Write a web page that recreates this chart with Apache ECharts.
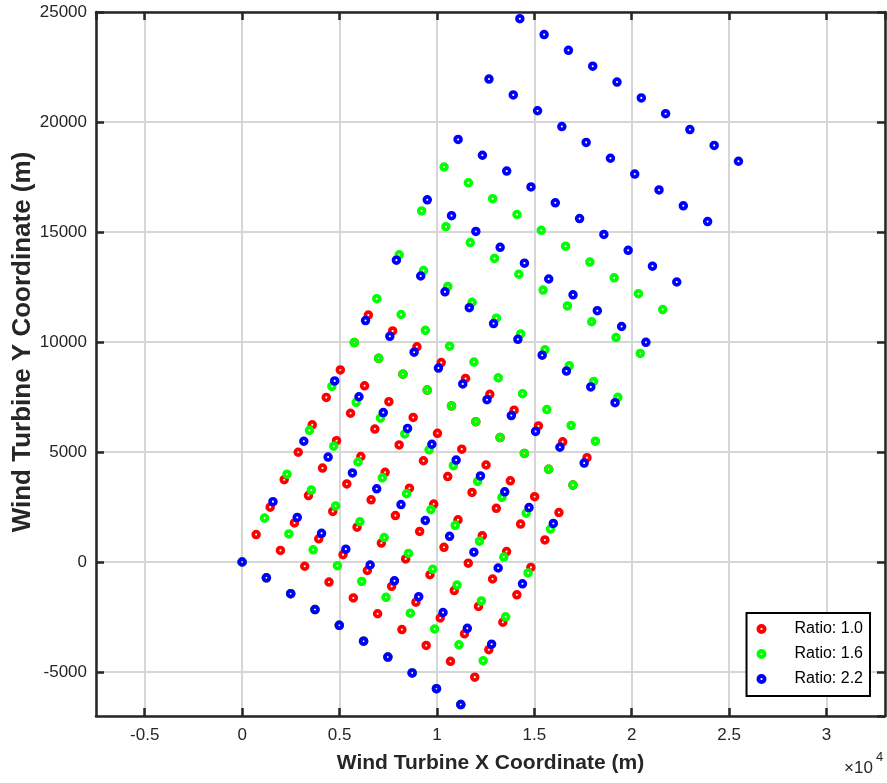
<!DOCTYPE html>
<html>
<head>
<meta charset="utf-8">
<script src="https://cdn.jsdelivr.net/npm/echarts@6/dist/echarts.min.js"></script>
<style>html,body{margin:0;padding:0;background:#fff}#c{width:887px;height:783px}</style>
</head>
<body>
<div id="c"></div>
<script>
// Series names
const seriesNames = ['Ratio: 1.0', 'Ratio: 1.6', 'Ratio: 2.2'];
const seriesColors = ['#ff0000', '#00ff00', '#0000ff'];

// Ratio 1.0 turbine coordinates (m), one row per line of turbines
const ratio10X = [
  [0,1247,2494,3741,4988,6235,7482,8729,9976,11223],
  [720,1967,3214,4461,5708,6955,8202,9449,10696,11943],
  [1440,2687,3934,5181,6428,7675,8922,10169,11416,12663],
  [2160,3407,4654,5901,7148,8395,9642,10889,12136,13383],
  [2880,4127,5374,6621,7868,9115,10362,11609,12856,14103],
  [3600,4847,6094,7341,8588,9835,11082,12329,13576,14823],
  [4320,5567,6814,8061,9308,10555,11802,13049,14296,15543],
  [5040,6287,7534,8781,10028,11275,12522,13769,15016,16263],
  [5760,7007,8254,9501,10748,11995,13242,14489,15736,16983],
  [6480,7727,8974,10221,11468,12715,13962,15209,16456,17703]
];
const ratio10Y = [
  [0,-720,-1440,-2160,-2880,-3600,-4320,-5040,-5760,-6480],
  [1247,527,-193,-913,-1633,-2353,-3073,-3793,-4513,-5233],
  [2494,1774,1054,334,-386,-1106,-1826,-2546,-3266,-3986],
  [3741,3021,2301,1581,861,141,-579,-1299,-2019,-2739],
  [4988,4268,3548,2828,2108,1388,668,-52,-772,-1492],
  [6235,5515,4795,4075,3355,2635,1915,1195,475,-245],
  [7482,6762,6042,5322,4602,3882,3162,2442,1722,1002],
  [8729,8009,7289,6569,5849,5129,4409,3689,2969,2249],
  [9976,9256,8536,7816,7096,6376,5656,4936,4216,3496],
  [11223,10503,9783,9063,8343,7623,6903,6183,5463,4743]
];

// Ratio 1.6 turbine coordinates (m)
const ratio16X = [
  [0,1247,2494,3741,4988,6235,7482,8729,9976,11223],
  [1152,2399,3646,4893,6140,7387,8634,9881,11128,12375],
  [2304,3551,4798,6045,7292,8539,9786,11033,12280,13527],
  [3456,4703,5950,7197,8444,9691,10938,12185,13432,14679],
  [4608,5855,7102,8349,9596,10843,12090,13337,14584,15831],
  [5760,7007,8254,9501,10748,11995,13242,14489,15736,16983],
  [6912,8159,9406,10653,11900,13147,14394,15641,16888,18135],
  [8064,9311,10558,11805,13052,14299,15546,16793,18040,19287],
  [9216,10463,11710,12957,14204,15451,16698,17945,19192,20439],
  [10368,11615,12862,14109,15356,16603,17850,19097,20344,21591]
];
const ratio16Y = [
  [0,-720,-1440,-2160,-2880,-3600,-4320,-5040,-5760,-6480],
  [1995,1275,555,-165,-885,-1605,-2325,-3045,-3765,-4485],
  [3990,3270,2550,1830,1110,390,-330,-1050,-1770,-2490],
  [5985,5265,4545,3825,3105,2385,1665,945,225,-495],
  [7980,7260,6540,5820,5100,4380,3660,2940,2220,1500],
  [9975,9255,8535,7815,7095,6375,5655,4935,4215,3495],
  [11970,11250,10530,9810,9090,8370,7650,6930,6210,5490],
  [13965,13245,12525,11805,11085,10365,9645,8925,8205,7485],
  [15960,15240,14520,13800,13080,12360,11640,10920,10200,9480],
  [17955,17235,16515,15795,15075,14355,13635,12915,12195,11475]
];

// Ratio 2.2 turbine coordinates (m)
const ratio22X = [
  [0,1247,2494,3741,4988,6235,7482,8729,9976,11223],
  [1584,2831,4078,5325,6572,7819,9066,10313,11560,12807],
  [3168,4415,5662,6909,8156,9403,10650,11897,13144,14391],
  [4752,5999,7246,8493,9740,10987,12234,13481,14728,15975],
  [6336,7583,8830,10077,11324,12571,13818,15065,16312,17559],
  [7920,9167,10414,11661,12908,14155,15402,16649,17896,19143],
  [9504,10751,11998,13245,14492,15739,16986,18233,19480,20727],
  [11088,12335,13582,14829,16076,17323,18570,19817,21064,22311],
  [12672,13919,15166,16413,17660,18907,20154,21401,22648,23895],
  [14256,15503,16750,17997,19244,20491,21738,22985,24232,25479]
];
const ratio22Y = [
  [0,-720,-1440,-2160,-2880,-3600,-4320,-5040,-5760,-6480],
  [2744,2024,1304,584,-136,-856,-1576,-2296,-3016,-3736],
  [5488,4768,4048,3328,2608,1888,1168,448,-272,-992],
  [8232,7512,6792,6072,5352,4632,3912,3192,2472,1752],
  [10976,10256,9536,8816,8096,7376,6656,5936,5216,4496],
  [13720,13000,12280,11560,10840,10120,9400,8680,7960,7240],
  [16464,15744,15024,14304,13584,12864,12144,11424,10704,9984],
  [19208,18488,17768,17048,16328,15608,14888,14168,13448,12728],
  [21952,21232,20512,19792,19072,18352,17632,16912,16192,15472],
  [24696,23976,23256,22536,21816,21096,20376,19656,18936,18216]
];

// Axis settings
const xMin = -7500, xMax = 33000;
const yMin = -7000, yMax = 25000;
const xTitle = 'Wind Turbine X Coordinate (m)';
const yTitle = 'Wind Turbine Y Coordinate (m)';
const xExponentText = '\u00d710';
const xExponent = '4';

function zip(xs, ys) {
  const out = [];
  for (let r = 0; r < xs.length; r++) {
    for (let c = 0; c < xs[r].length; c++) out.push([xs[r][c], ys[r][c]]);
  }
  return out;
}
const allData = [zip(ratio10X, ratio10Y), zip(ratio16X, ratio16Y), zip(ratio22X, ratio22Y)];

const FONT = '"Liberation Sans", Arial, Helvetica, sans-serif';
const AX = '#262626';
const RING = 'path://M5,0A5,5,0,1,1,5,10A5,5,0,1,1,5,0ZM5,3.9A1.1,1.1,0,1,0,5,6.1A1.1,1.1,0,1,0,5,3.9Z';

const chart = echarts.init(document.getElementById('c'), null, {renderer: 'canvas'});

const baseX = {
  type: 'value', min: xMin, max: xMax, splitNumber: 8,
  axisLine: {show: true, onZero: false, lineStyle: {color: AX, width: 2.5}},
  axisTick: {show: true, inside: true, length: 8, lineStyle: {color: AX, width: 2.5}}
};
const baseY = {
  type: 'value', min: yMin, max: yMax, splitNumber: 6,
  axisLine: {show: true, onZero: false, lineStyle: {color: AX, width: 2.5}},
  axisTick: {show: true, inside: true, length: 8, lineStyle: {color: AX, width: 2.5}}
};

const option = {
  backgroundColor: '#fff',
  animation: false,
  grid: {left: 96, right: 2, top: 12, bottom: 67, containLabel: false, outerBoundsMode: 'none'},
  xAxis: [
    Object.assign({}, baseX, {
      position: 'bottom',
      name: xTitle, nameLocation: 'middle', nameGap: 37, nameMoveOverlap: false,
      nameTextStyle: {fontFamily: FONT, fontSize: 21, fontWeight: 'bold', color: AX},
      axisLabel: {show: true, margin: 11, fontFamily: FONT, fontSize: 17, color: AX,
        showMinLabel: false, showMaxLabel: false,
        formatter: v => String(+(v / 10000).toFixed(2))},
      splitLine: {show: true, lineStyle: {color: '#d6d6d6', width: 2}}
    }),
    Object.assign({}, baseX, {
      position: 'top', axisLabel: {show: false}, splitLine: {show: false}
    })
  ],
  yAxis: [
    Object.assign({}, baseY, {
      position: 'left',
      name: yTitle, nameLocation: 'middle', nameGap: 60, nameMoveOverlap: false,
      nameTextStyle: {fontFamily: FONT, fontSize: 26, fontWeight: 'bold', color: AX, padding: [0, 0, 0, 44]},
      axisLabel: {show: true, margin: 9, fontFamily: FONT, fontSize: 17, color: AX,
        showMinLabel: false, formatter: v => String(v)},
      splitLine: {show: true, lineStyle: {color: '#d6d6d6', width: 2}}
    }),
    Object.assign({}, baseY, {
      position: 'right', axisLabel: {show: false}, splitLine: {show: false}
    })
  ],
  legend: {
    orient: 'vertical', right: 17, top: 613, align: 'left',
    itemWidth: 56, itemHeight: 10, itemGap: 9,
    padding: [8, 7, 9, 10],
    borderColor: '#000', borderWidth: 2, backgroundColor: '#fff',
    textStyle: {fontFamily: FONT, fontSize: 16, color: '#000'},
    data: seriesNames
  },
  graphic: [
    {type: 'text', left: 844, top: 760, z: 100,
      style: {text: xExponentText, font: '17px ' + FONT, fill: AX}},
    {type: 'text', left: 876, top: 751, z: 100,
      style: {text: xExponent, font: '13px ' + FONT, fill: AX}}
  ],
  series: seriesNames.map((n, i) => ({
    name: n, type: 'scatter', xAxisIndex: 0, yAxisIndex: 0,
    symbol: RING, symbolSize: 9.5, symbolKeepAspect: true,
    itemStyle: {color: seriesColors[i], opacity: 1},
    data: allData[i], z: 2 + i
  }))
};
chart.setOption(option);
</script>
</body>
</html>
